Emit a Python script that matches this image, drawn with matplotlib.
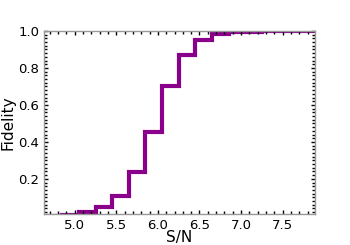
"""
Fidelity vs S/N step curve
"""

import matplotlib
matplotlib.use("Agg")
import matplotlib.pyplot as plt
from matplotlib.ticker import MultipleLocator


# bin edges in S/N and fidelity per bin
bin_edges = [4.65, 4.85, 5.05, 5.25, 5.45, 5.65, 5.85, 6.05, 6.25,
             6.45, 6.65, 6.85, 7.05, 7.25, 7.45, 7.65, 7.85, 8.05]
fidelity = [0.001, 0.005, 0.02, 0.046, 0.108, 0.238, 0.456, 0.70, 0.87,
            0.951, 0.982, 0.993, 0.997, 0.999, 1.0, 1.0, 1.0]
x_ticks = [5.0, 5.5, 6.0, 6.5, 7.0, 7.5]
y_ticks = [0.2, 0.4, 0.6, 0.8, 1.0]


def main():
    fig = plt.figure(figsize=(3.5, 2.45), dpi=100)
    ax = fig.add_axes([44 / 350, 31 / 245, 271 / 350, 183 / 245])

    ax.stairs(fidelity, bin_edges, color="#8b008b", linewidth=3)

    ax.set_xlim(4.63, 7.89)
    ax.set_ylim(0.01, 1.0)
    ax.set_xticks(x_ticks)
    ax.set_yticks(y_ticks)
    ax.xaxis.set_minor_locator(MultipleLocator(0.1))
    ax.yaxis.set_minor_locator(MultipleLocator(0.02))

    ax.tick_params(which="both", direction="in", top=True, right=True,
                   labelsize=9.5)
    ax.tick_params(which="major", length=3, width=1)
    ax.tick_params(which="minor", length=2, width=1)
    for spine in ax.spines.values():
        spine.set_color("#999999")
        spine.set_linewidth(1)

    ax.set_xlabel("S/N", fontsize=11, labelpad=-1)
    ax.set_ylabel("Fidelity", fontsize=11, labelpad=2)

    fig.savefig("out.png", dpi=100)


if __name__ == "__main__":
    main()
